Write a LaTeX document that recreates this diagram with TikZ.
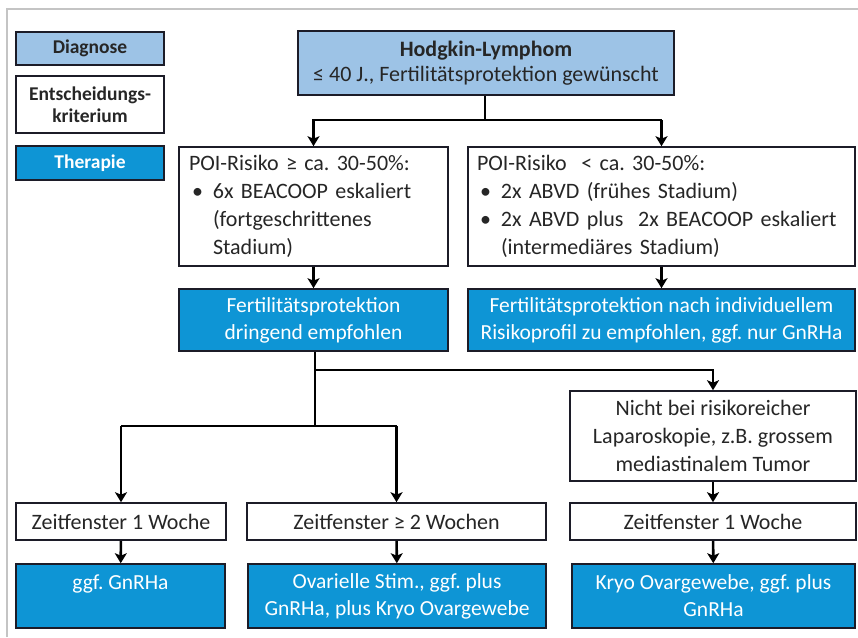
\documentclass[tikz,border=0pt]{standalone}
\usepackage{fontspec}
\setmainfont{Carlito}
\usetikzlibrary{arrows.meta}
\definecolor{lightblue}{HTML}{9DC3E6}
\definecolor{strongblue}{HTML}{0E95D5}
\definecolor{frame}{HTML}{1C1C28}
\definecolor{txt}{HTML}{262626}
\definecolor{border}{HTML}{C4C4C4}
\tikzset{
  box/.style={draw=frame, line width=1.6pt, inner sep=0pt, text=txt, align=center},
  critbox/.style={box, fill=white},
  diagbox/.style={box, fill=lightblue},
  therbox/.style={box, fill=strongblue, text=white},
  conn/.style={line width=2.6pt, draw=black},
  arr/.style={conn, -{Stealth[length=10pt,width=12pt,inset=2.5pt]}},
  legendfont/.style={font=\fontsize{19.5}{22}\selectfont\bfseries},
  mainfont/.style={font=\fontsize{22}{28}\selectfont},
  bluefont/.style={font=\fontsize{21.5}{27}\selectfont},
}
\begin{document}
\frenchspacing
\begin{tikzpicture}[x=1pt,y=-1pt]
\useasboundingbox (0,0) rectangle (858,637);
\fill[white] (0,0) rectangle (858,637);
\draw[border, line width=2pt] (7,637) -- (7,9) -- (858,9);

% legend
\node[diagbox, legendfont, minimum width=148pt, minimum height=33pt] (diag) at (90,48.5) {Diagnose};
\node[critbox, legendfont, minimum width=148pt, minimum height=57pt] (krit) at (90,104.5) {Entscheidungs-\\kriterium};
\node[therbox, legendfont, minimum width=148pt, minimum height=34pt] (ther) at (90,163) {Therapie};

% top
\node[diagbox, minimum width=376pt, minimum height=64pt, font=\fontsize{22}{25}\selectfont] (hodg) at (486,63)
  {{\bfseries Hodgkin-Lymphom}\\≤ 40 J., Fertilitätsprotektion gewünscht};

\node[critbox, mainfont, minimum width=269pt, minimum height=119pt, text width=249pt, align=left] (poiL) at (313.5,206.5)
  {POI-Risiko ≥ ca. 30-50\%:\\
   \makebox[24pt][l]{\hspace{3pt}•}6x BEACOOP eskaliert\\
   \hspace*{24pt}(fortgeschrittenes\\
   \hspace*{24pt}Stadium)};
\node[critbox, mainfont, minimum width=387pt, minimum height=119pt, text width=369pt, align=left] (poiR) at (661.5,206.5)
  {POI-Risiko\ \ < ca. 30-50\%:\\
   \makebox[24pt][l]{\hspace{3pt}•}2x ABVD (frühes Stadium)\\
   \makebox[24pt][l]{\hspace{3pt}•}2x ABVD plus\ \ 2x BEACOOP eskaliert\\
   \hspace*{24pt}(intermediäres Stadium)};

\node[therbox, bluefont, minimum width=269pt, minimum height=62pt] (blueL) at (313.5,320)
  {Fertilitätsprotektion\\dringend empfohlen};
\node[therbox, bluefont, minimum width=387pt, minimum height=62pt] (blueR) at (661.5,320)
  {Fertilitätsprotektion nach individuellem\\Risikoprofil zu empfohlen, ggf. nur GnRHa};

\node[critbox, mainfont, minimum width=286pt, minimum height=90pt] (nicht) at (713,436)
  {Nicht bei risikoreicher\\Laparoskopie, z.B. grossem\\mediastinalem Tumor};

\node[critbox, mainfont, minimum width=210pt, minimum height=37pt] (z1) at (121,521.5) {Zeitfenster 1 Woche};
\node[critbox, mainfont, minimum width=299pt, minimum height=37pt] (z2) at (396.5,521.5) {Zeitfenster ≥ 2 Wochen};
\node[critbox, mainfont, minimum width=286pt, minimum height=37pt] (z3) at (713,521.5) {Zeitfenster 1 Woche};

\node[therbox, bluefont, minimum width=209pt, minimum height=64pt] (gL) at (120.5,596) {ggf. GnRHa\\\mbox{}};
\node[therbox, bluefont, minimum width=298pt, minimum height=64pt] (gM) at (397,596) {Ovarielle Stim., ggf. plus\\GnRHa, plus Kryo Ovargewebe};
\node[therbox, bluefont, minimum width=283pt, minimum height=64pt] (gR) at (713.5,596) {Kryo Ovargewebe, ggf. plus\\GnRHa};

% connectors
\coordinate (j1) at (485,120);
\coordinate (j2) at (315,370);
\coordinate (j3) at (315,426);
\draw[conn] (hodg.south -| j1) -- (j1);
\draw[conn] (312,120) -- (662,120);
\draw[arr] (poiL.north |- j1) -- (poiL.north);
\draw[arr] (poiR.north |- j1) -- (poiR.north);
\draw[arr] (poiL) -- (blueL);
\draw[arr] (poiR) -- (blueR);
\draw[conn] (blueL.south -| j2) -- (j3);
\draw[arr] (j2) -| (nicht.north);
\draw[conn] (z1.north |- j3) -- (z2.north |- j3);
\draw[arr] (z1.north |- j3) -- (z1.north);
\draw[arr] (z2.north |- j3) -- (z2.north);
\draw[arr] (nicht) -- (z3);
\draw[arr] (z1) -- (gL);
\draw[arr] (z2) -- (gM);
\draw[arr] (z3) -- (gR);
\end{tikzpicture}
\end{document}
